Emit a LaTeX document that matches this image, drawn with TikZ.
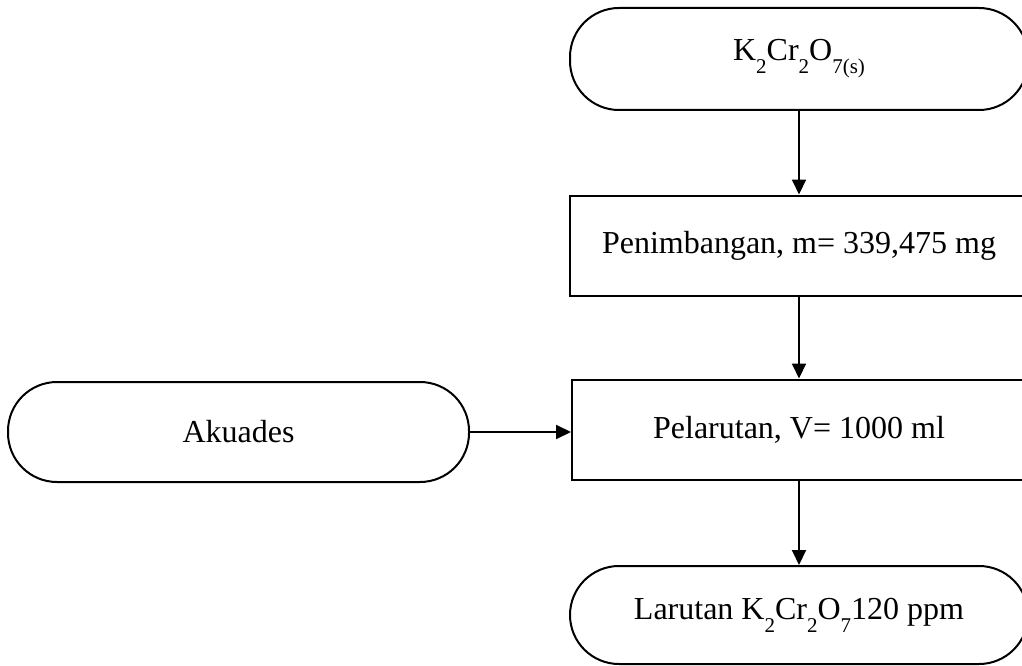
\documentclass[tikz,border=0pt]{standalone}
\usepackage{fontspec}
\setmainfont{Liberation Serif}
\usetikzlibrary{arrows.meta}
\newcommand{\chemsub}[1]{\raisebox{-13pt}{\fontsize{21}{21}\selectfont #1}}

\begin{document}
\begin{tikzpicture}[x=1pt, y=-1pt, line width=2pt, minimum width=458pt, minimum height=100pt,
    font=\fontsize{32}{38}\selectfont, >={Triangle[length=15pt, width=14pt]}]
    \useasboundingbox (0,0) rectangle (1022,666);
    \clip (0,0) rectangle (1022,666);

    \node[draw, align=center, rounded corners=49pt, minimum height=102pt]  (K)  at (799.0,  59.0)  {K\chemsub{2}Cr\chemsub{2}O\chemsub{7(s)}};
    \node[draw, align=center]                                              (T)  at (799.0, 245.5)  {Penimbangan, m= 339,475 mg};
    \node[draw, align=center, minimum width=454pt]                         (L)  at (799.0, 429.5)  {Pelarutan, V= 1000 ml};
    \node[draw, align=center, rounded corners=49pt, minimum width=461pt]   (A)  at (238.5, 432.0)  {Akuades};
    \node[draw, align=center, rounded corners=49pt, minimum height=98pt]   (H)  at (799.0, 615.0)  {Larutan K\chemsub{2}Cr\chemsub{2}O\chemsub{7}120 ppm};

    \draw[->] (K) -- (T);
    \draw[->] (T) -- (L);
    \draw[->] (A.east) -- (A.east -| L.west);
    \draw[->] (L) -- (H);
\end{tikzpicture}
\end{document}
